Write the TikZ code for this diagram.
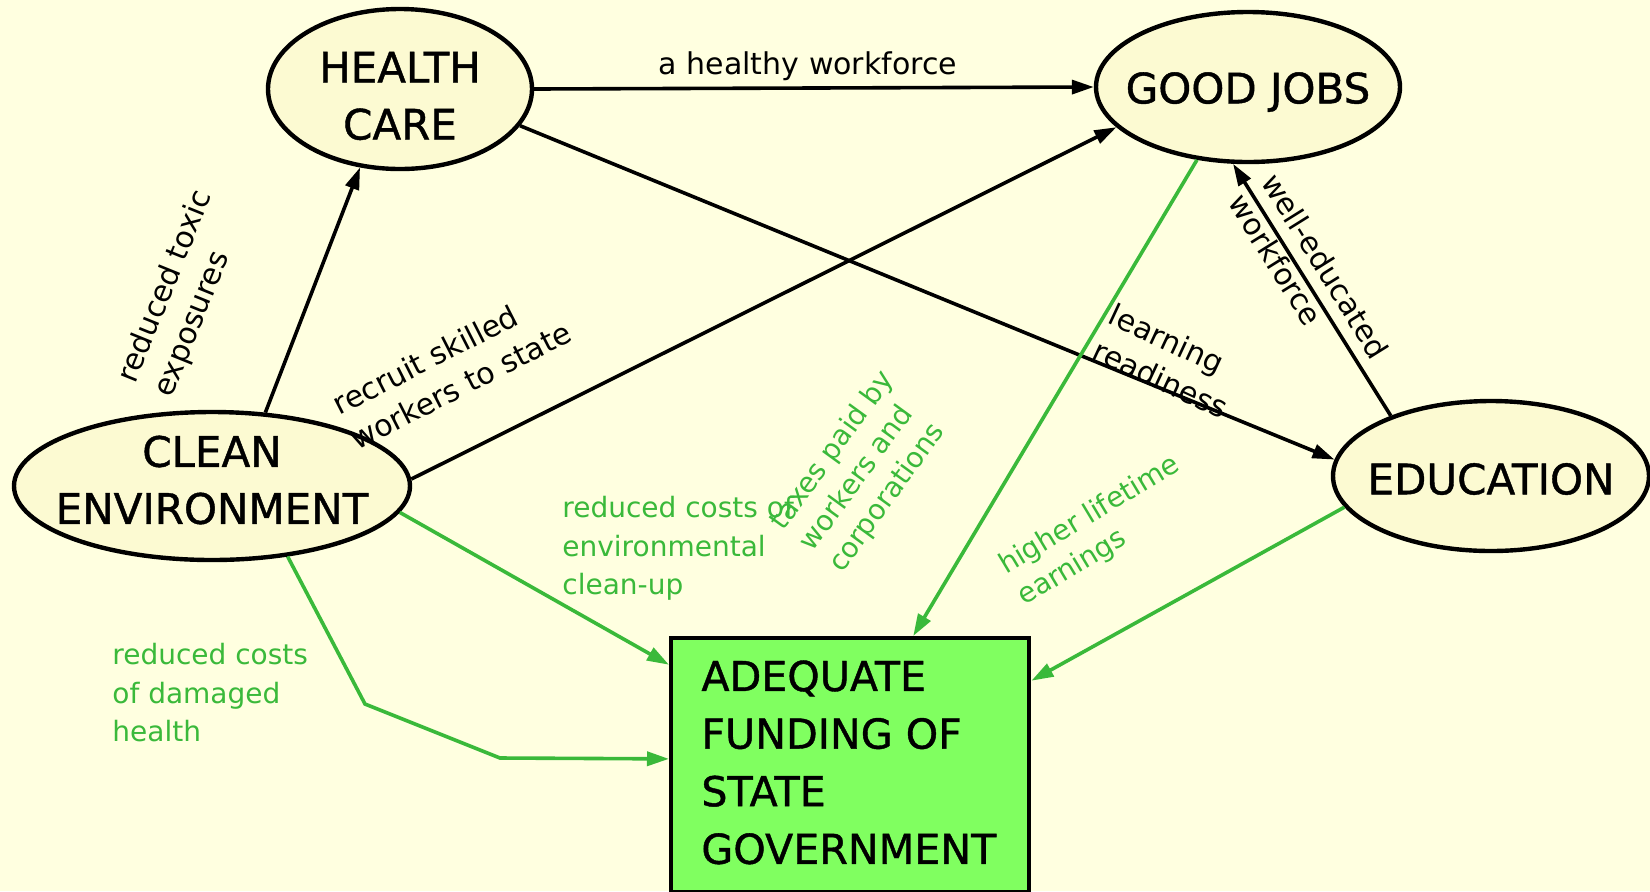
\documentclass[tikz,border=0pt]{standalone}
\usepackage{fontspec}
\setmainfont{DejaVu Sans}
\newfontfamily\nodefont{DejaVu Sans}[FakeBold=1]
\usetikzlibrary{arrows.meta,shapes.geometric}
\definecolor{bgc}{RGB}{255,255,224}
\definecolor{ellfill}{RGB}{252,250,210}
\definecolor{boxfill}{RGB}{128,255,96}
\definecolor{grn}{RGB}{58,185,58}
\begin{document}
\begin{tikzpicture}[x=0.5pt,y=-0.5pt,
  ell/.style={ellipse, draw=black, line width=2.2pt, fill=ellfill, inner sep=0pt},
  ntext/.style={align=center, font=\nodefont\fontsize{21}{28.5}\selectfont, inner sep=0pt},
  boxst/.style={rectangle, draw=black, line width=2.2pt, fill=boxfill, inner sep=0pt},
  btext/.style={align=left, inner sep=0pt, font=\nodefont\fontsize{20.6}{28.8}\selectfont},
  blk/.style={-{Triangle[length=11pt,width=7pt]}, line width=1.8pt, draw=black},
  grnarr/.style={-{Triangle[length=11pt,width=7pt]}, line width=1.8pt, draw=grn},
  lbl/.style={align=left, inner sep=0pt, font=\fontsize{15}{19.5}\selectfont},
  glbl/.style={align=left, inner sep=0pt, text=grn, font=\fontsize{14}{18}\selectfont},
  ghlbl/.style={align=left, inner sep=0pt, text=grn, font=\fontsize{14}{19.3}\selectfont}]
\path[fill=bgc] (0,0) rectangle (1650,891);
\useasboundingbox (0,0) rectangle (1650,891);

% nodes
\node[ell, minimum width=132pt, minimum height=80pt,
  label={[ntext, yshift=-3.5pt]center:HEALTH\\CARE}] (hc) at (400,89) {};
\node[ell, minimum width=152pt, minimum height=75pt,
  label={[ntext, yshift=-2.5pt]center:GOOD JOBS}] (gj) at (1248,87) {};
\node[ell, minimum width=198pt, minimum height=74pt,
  label={[ntext, yshift=3pt]center:CLEAN\\ENVIRONMENT}] (ce) at (212,486) {};
\node[ell, minimum width=158pt, minimum height=75pt,
  label={[ntext, yshift=-1.5pt]center:EDUCATION}] (ed) at (1491,476) {};
\node[boxst, anchor=north west, minimum width=179pt, minimum height=127pt,
  label={[btext, anchor=north west, xshift=16pt, yshift=-12pt]north west:ADEQUATE\\FUNDING OF\\STATE\\GOVERNMENT}]
  (fund) at (669,636) {};

% black connectors
\draw[blk] (hc.0) -- (gj.180);
\draw[blk] (hc.-17.6) -- (ed.174.5);
\draw[blk] (ce.54.5) -- (hc.243.4);
\draw[blk] (ce.2.6) -- (gj.197.3);
\draw[blk] (ed.149) -- (gj.259.4);

% green connectors
\coordinate (b1) at (365,704);
\coordinate (b2) at (500,758);
\draw[grnarr] (gj.235.8) -- (fund.64.7);
\draw[grnarr] (ed.192.9) -- (fund.25.4);
\draw[grnarr] (ce.-8) -- (fund.151.5);
\draw[grnarr] (ce.-43) -- (b1) -- (b2) -- (fund.178.4);

% black labels
\node[lbl] (l1) at (808,66) {a healthy workforce};
\node[lbl, rotate=68] (l2) at (184,294) {reduced toxic\\exposures};
\node[lbl, rotate=27] (l3) at (452,368) {recruit skilled\\workers to state};
\node[lbl, rotate=-25] (l4) at (1169,361) {learning\\readiness};
\node[lbl, rotate=-58] (l5) at (1309,276) {well-educated\\workforce};

% green labels
\node[glbl, rotate=54] (l6) at (862,472) {taxes paid by\\workers and\\corporations};
\node[glbl, rotate=31] (l7) at (1099,531) {higher lifetime\\earnings};
\node[ghlbl, anchor=north west] (l8) at (562,496) {reduced costs of\\environmental\\clean-up};
\node[ghlbl, anchor=north west] (l9) at (112,643) {reduced costs\\of damaged\\health};
\end{tikzpicture}
\end{document}
